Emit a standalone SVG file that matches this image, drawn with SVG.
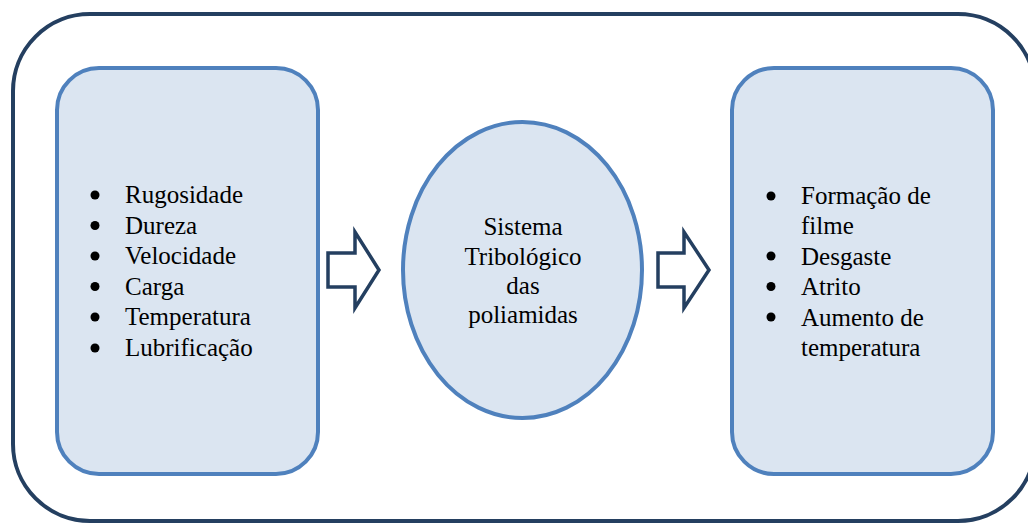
<svg xmlns="http://www.w3.org/2000/svg" width="1028" height="523" viewBox="0 0 1028 523">
<style>
.box{fill:#DBE5F1;stroke:#4F81BD;stroke-width:4}
.arrow{fill:#FFFFFF;stroke:#243F60;stroke-width:3.5;stroke-linejoin:miter}
.c{text-anchor:middle}
.b{fill:#000}
.t{font-family:"Liberation Serif",serif;font-size:25px;fill:#000}
</style>
<rect id="frame" x="13" y="14" width="1022" height="507" rx="77" ry="77" fill="#FFFFFF" stroke="#243F60" stroke-width="4"/>
<g id="inputs">
<rect class="box" x="57" y="68" width="261" height="406" rx="42" ry="42"/>
<circle class="b" cx="95" cy="195" r="4.5"/><text class="t" x="125" y="203">Rugosidade</text>
<circle class="b" cx="95" cy="225.5" r="4.5"/><text class="t" x="125" y="233.5">Dureza</text>
<circle class="b" cx="95" cy="256" r="4.5"/><text class="t" x="125" y="264">Velocidade</text>
<circle class="b" cx="95" cy="286.5" r="4.5"/><text class="t" x="125" y="294.5">Carga</text>
<circle class="b" cx="95" cy="317" r="4.5"/><text class="t" x="125" y="325">Temperatura</text>
<circle class="b" cx="95" cy="348" r="4.5"/><text class="t" x="125" y="356">Lubrificação</text>
</g>
<g id="system">
<ellipse class="box" cx="522.5" cy="270" rx="119.5" ry="148"/>
<text class="t c" x="523" y="235">Sistema</text>
<text class="t c" x="523" y="265">Tribológico</text>
<text class="t c" x="523" y="294">das</text>
<text class="t c" x="523" y="323">poliamidas</text>
</g>
<g id="outputs">
<rect class="box" x="732" y="68" width="261" height="406" rx="42" ry="42"/>
<circle class="b" cx="771" cy="196" r="4.5"/><text class="t" x="801" y="204">Formação de</text>
<text class="t" x="801" y="234">filme</text>
<circle class="b" cx="771" cy="256" r="4.5"/><text class="t" x="801" y="264.5">Desgaste</text>
<circle class="b" cx="771" cy="286.5" r="4.5"/><text class="t" x="801" y="295">Atrito</text>
<circle class="b" cx="771" cy="317" r="4.5"/><text class="t" x="801" y="325.5">Aumento de</text>
<text class="t" x="801" y="356">temperatura</text>
</g>
<g id="connectors">
<polygon class="arrow" points="328,253 355,253 355,232 379,270 355,308 355,287 328,287"/>
<polygon class="arrow" points="658,253 684,253 684,232 709,270 684,308 684,287 658,287"/>
</g>
</svg>
